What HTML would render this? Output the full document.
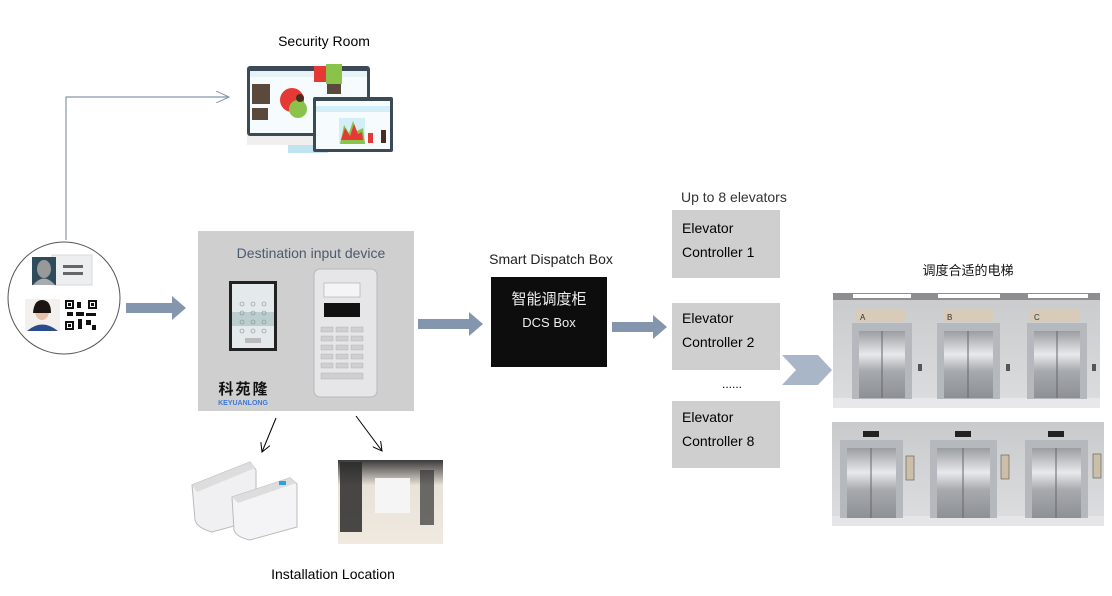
<!DOCTYPE html>
<html><head><meta charset="utf-8"><style>
html,body{margin:0;padding:0;background:#fff;}
svg{display:block;}
text{font-family:"Liberation Sans","Noto Sans CJK SC",sans-serif;}
</style></head><body>
<svg width="1112" height="596" viewBox="0 0 1112 596" xmlns="http://www.w3.org/2000/svg">
<defs>
<linearGradient id="door" x1="0" x2="1" y1="0" y2="0">
<stop offset="0" stop-color="#8f9398"/><stop offset="0.5" stop-color="#dfe1e4"/><stop offset="1" stop-color="#8a8e93"/></linearGradient>
<linearGradient id="doorv" x1="0" x2="0" y1="0" y2="1">
<stop offset="0" stop-color="#9a9da1"/><stop offset="0.35" stop-color="#e8e9eb"/><stop offset="0.6" stop-color="#a6a9ad"/><stop offset="1" stop-color="#8d9095"/></linearGradient>
<linearGradient id="wall" x1="0" x2="0" y1="0" y2="1">
<stop offset="0" stop-color="#c9cacc"/><stop offset="1" stop-color="#dcdddf"/></linearGradient>
<linearGradient id="hall" x1="0" x2="0" y1="0" y2="1">
<stop offset="0" stop-color="#3a3a3a"/><stop offset="0.3" stop-color="#e8e2d8"/><stop offset="1" stop-color="#efe9df"/></linearGradient>
<marker id="ah" markerWidth="10" markerHeight="10" refX="9" refY="5" orient="auto" markerUnits="userSpaceOnUse"><path d="M0,0 L9,5 L0,10" fill="none" stroke="#000" stroke-width="1"/></marker>
<marker id="ahb" markerWidth="14" markerHeight="12" refX="13" refY="6" orient="auto" markerUnits="userSpaceOnUse"><path d="M0,0 L13,6 L0,12" fill="none" stroke="#8396b0" stroke-width="1"/></marker>
</defs>

<!-- Security room -->
<text x="324" y="46" font-size="14" text-anchor="middle" fill="#000">Security Room</text>
<polyline points="66,240 66,97 229,97" fill="none" stroke="#8396b0" stroke-width="1.2" marker-end="url(#ahb)"/>
<!-- monitor -->
<rect x="247" y="66" width="123" height="70" rx="3" fill="#3c4a55"/>
<rect x="250" y="71" width="117" height="62" fill="#f6fbfd"/>
<rect x="250" y="71" width="117" height="6" fill="#e5f3f8"/>
<rect x="252" y="84" width="18" height="20" fill="#5a4a3c"/>
<rect x="252" y="108" width="16" height="12" fill="#5a4a3c"/>
<rect x="314" y="66" width="16" height="16" fill="#e53935"/>
<rect x="326" y="64" width="16" height="20" fill="#8bc34a"/>
<rect x="327" y="84" width="14" height="10" fill="#5a4a3c"/>
<circle cx="292" cy="100" r="12" fill="#e53935"/>
<circle cx="298" cy="109" r="9" fill="#8bc34a"/>
<circle cx="300" cy="98" r="4" fill="#4a2d20"/>
<rect x="247" y="136" width="123" height="9" fill="#f0efee"/>
<rect x="288" y="145" width="40" height="8" fill="#bfe4f0"/>
<rect x="313" y="97" width="80" height="55" rx="2" fill="#3c4a55"/>
<rect x="316" y="101" width="74" height="48" fill="#f6fbfd"/>
<rect x="316" y="106" width="74" height="6" fill="#d4eef7"/>
<rect x="339" y="118" width="26" height="26" fill="#d4eef7"/>
<polygon points="340,144 344,125 349,133 353,121 357,131 363,128 365,144" fill="#8bc34a"/>
<polygon points="341,140 345,128 350,136 354,124 358,134 362,132 363,140" fill="#e53935"/>
<rect x="368" y="133" width="5" height="10" fill="#e53935"/>
<rect x="381" y="130" width="5" height="13" fill="#4a2d20"/>

<!-- circle with id/face/qr -->
<circle cx="64" cy="298" r="56" fill="#fff" stroke="#555" stroke-width="1"/>
<rect x="52" y="255" width="40" height="30" fill="#eceef0" stroke="#d8d8d8"/>
<rect x="63" y="265" width="20" height="3" fill="#666"/><rect x="63" y="272" width="20" height="3" fill="#666"/>
<rect x="32" y="257" width="24" height="28" fill="#2e4c5c"/>
<ellipse cx="44" cy="269" rx="7" ry="9" fill="#999"/><path d="M33,285 Q44,272 55,285Z" fill="#aaa"/>
<rect x="25" y="299" width="35" height="32" fill="#f3f0ee"/>
<ellipse cx="42" cy="311" rx="7" ry="9" fill="#e7c0a8"/><path d="M33,313 Q34,300 42,300 Q51,300 51,313 Z" fill="#1b1412"/>
<path d="M27,331 Q42,318 58,331Z" fill="#2b4c8c"/>
<rect x="65" y="300" width="32" height="30" fill="#fff"/>
<g fill="#111">
<rect x="65" y="300" width="9" height="9"/><rect x="88" y="300" width="9" height="9"/><rect x="65" y="321" width="9" height="9"/>
<rect x="77" y="302" width="4" height="6"/><rect x="76" y="312" width="8" height="4"/><rect x="86" y="313" width="10" height="3"/>
<rect x="78" y="319" width="4" height="10"/><rect x="86" y="320" width="5" height="5"/><rect x="92" y="325" width="4" height="5"/><rect x="67" y="312" width="6" height="4"/>
</g>
<g fill="#fff"><rect x="67" y="302" width="5" height="5"/><rect x="90" y="302" width="5" height="5"/><rect x="67" y="323" width="5" height="5"/></g>
<g fill="#111"><rect x="68" y="303" width="3" height="3"/><rect x="91" y="303" width="3" height="3"/><rect x="68" y="324" width="3" height="3"/></g>

<!-- arrow 1 -->
<polygon points="126,303 172,303 172,296 186,308 172,320 172,313 126,313" fill="#8496ad"/>

<!-- destination input device box -->
<rect x="198" y="231" width="216" height="180" fill="#d0cfd0"/>
<text x="311" y="258" font-size="14" text-anchor="middle" fill="#4a5a6e">Destination input device</text>
<rect x="229" y="281" width="48" height="70" fill="#222"/>
<rect x="232" y="284" width="42" height="64" fill="#e4eaeb"/>
<rect x="232" y="312" width="42" height="14" fill="#a8c2c4" opacity="0.7"/>
<g fill="none" stroke="#888" stroke-width="0.6">
<circle cx="242" cy="304" r="2"/><circle cx="253" cy="304" r="2"/><circle cx="264" cy="304" r="2"/>
<circle cx="242" cy="313" r="2"/><circle cx="253" cy="313" r="2"/><circle cx="264" cy="313" r="2"/>
<circle cx="242" cy="322" r="2"/><circle cx="253" cy="322" r="2"/><circle cx="264" cy="322" r="2"/>
<circle cx="242" cy="331" r="2"/><circle cx="253" cy="331" r="2"/><circle cx="264" cy="331" r="2"/></g>
<rect x="245" y="338" width="16" height="5" fill="#bbb"/>
<rect x="314" y="269" width="63" height="128" rx="6" fill="#e6e6e8" stroke="#b8b8ba"/>
<rect x="324" y="283" width="36" height="14" fill="#f4f4f4" stroke="#999" stroke-width="0.5"/>
<rect x="324" y="303" width="36" height="14" fill="#111"/>
<g fill="#cfcfd2" stroke="#aaa" stroke-width="0.4">
<rect x="321" y="327" width="12" height="5"/><rect x="336" y="327" width="12" height="5"/><rect x="351" y="327" width="12" height="5"/>
<rect x="321" y="336" width="12" height="5"/><rect x="336" y="336" width="12" height="5"/><rect x="351" y="336" width="12" height="5"/>
<rect x="321" y="345" width="12" height="5"/><rect x="336" y="345" width="12" height="5"/><rect x="351" y="345" width="12" height="5"/>
<rect x="321" y="354" width="12" height="5"/><rect x="336" y="354" width="12" height="5"/><rect x="351" y="354" width="12" height="5"/>
<rect x="321" y="363" width="12" height="5"/><rect x="336" y="363" width="12" height="5"/><rect x="351" y="363" width="12" height="5"/>
<rect x="321" y="373" width="42" height="6"/></g>
<text x="244" y="394" font-size="15" font-weight="bold" text-anchor="middle" fill="#111" font-family="'Noto Serif CJK SC',serif" letter-spacing="2">科苑隆</text>
<text x="243" y="405" font-size="7" font-weight="bold" text-anchor="middle" fill="#3b78d8">KEYUANLONG</text>

<!-- arrows to installation -->
<line x1="276" y1="418" x2="262" y2="452" stroke="#000" stroke-width="1" marker-end="url(#ah)"/>
<line x1="356" y1="416" x2="382" y2="451" stroke="#000" stroke-width="1" marker-end="url(#ah)"/>
<!-- turnstile -->
<path d="M192,485 L250,462 L256,470 L256,520 L212,532 Q197,528 195,520 Z" fill="#f0f0f2" stroke="#bbb"/>
<path d="M192,485 L250,462 L255,468 L197,492 Z" fill="#ddd"/>
<path d="M232,497 L290,478 L297,484 L297,527 L250,540 Q236,537 234,530 Z" fill="#f4f4f6" stroke="#bbb"/>
<path d="M232,497 L290,478 L296,483 L238,503 Z" fill="#ddd"/>
<rect x="279" y="481" width="7" height="4" fill="#2aa4e0"/>
<!-- lobby -->
<rect x="338" y="460" width="105" height="84" fill="url(#hall)"/>
<rect x="340" y="462" width="22" height="70" fill="#2a2a2a" opacity="0.85"/>
<rect x="420" y="470" width="14" height="55" fill="#333" opacity="0.7"/>
<rect x="375" y="478" width="35" height="35" fill="#f5f5f5"/>
<text x="333" y="579" font-size="14" text-anchor="middle" fill="#000">Installation Location</text>

<!-- arrow 2 -->
<polygon points="418,319 469,319 469,312 483,324 469,336 469,329 418,329" fill="#8496ad"/>

<!-- Smart dispatch box -->
<text x="551" y="264" font-size="14" text-anchor="middle" fill="#222">Smart Dispatch Box</text>
<rect x="491" y="277" width="116" height="90" fill="#0d0d0d"/>
<text x="549" y="304" font-size="15" text-anchor="middle" fill="#eee" font-family="'Noto Sans CJK SC',sans-serif">智能调度柜</text>
<text x="549" y="327" font-size="13" text-anchor="middle" fill="#eee" font-family="'Liberation Mono',monospace">DCS Box</text>

<!-- arrow 3 -->
<polygon points="612,322 653,322 653,315 667,327 653,339 653,332 612,332" fill="#8496ad"/>

<!-- controllers -->
<text x="681" y="202" font-size="14" fill="#333">Up to 8 elevators</text>
<rect x="672" y="210" width="108" height="68" fill="#d0cfcf"/>
<text x="682" y="233" font-size="14" fill="#000">Elevator</text>
<text x="682" y="257" font-size="14" fill="#000">Controller 1</text>
<rect x="672" y="303" width="108" height="67" fill="#d0cfcf"/>
<text x="682" y="323" font-size="14" fill="#000">Elevator</text>
<text x="682" y="347" font-size="14" fill="#000">Controller 2</text>
<text x="722" y="388" font-size="12" fill="#000">......</text>
<rect x="672" y="401" width="108" height="67" fill="#d0cfcf"/>
<text x="682" y="422" font-size="14" fill="#000">Elevator</text>
<text x="682" y="446" font-size="14" fill="#000">Controller 8</text>

<!-- chevron -->
<polygon points="782,355 818,355 832,370 818,385 782,385 796,370" fill="#a9b6c8"/>

<!-- elevators -->
<text x="968" y="275" font-size="13" text-anchor="middle" fill="#111" font-family="'Noto Sans CJK SC',sans-serif">调度合适的电梯</text>
<rect x="833" y="293" width="267" height="115" fill="url(#wall)"/>
<rect x="833" y="293" width="267" height="7" fill="#8e8e90"/>
<rect x="853" y="294" width="58" height="4" fill="#fff"/><rect x="938" y="294" width="62" height="4" fill="#fff"/><rect x="1028" y="294" width="60" height="4" fill="#fff"/>
<rect x="833" y="398" width="267" height="10" fill="#e8e8ea"/>
<rect x="856" y="310" width="50" height="12" fill="#d8cbb8"/><text x="860" y="320" font-size="8" fill="#333">A</text>
<rect x="943" y="310" width="50" height="12" fill="#d8cbb8"/><text x="947" y="320" font-size="8" fill="#333">B</text>
<rect x="1030" y="310" width="50" height="12" fill="#d8cbb8"/><text x="1034" y="320" font-size="8" fill="#333">C</text>
<g>
<rect x="852" y="323" width="60" height="76" fill="#b5b8bc"/><rect x="859" y="331" width="46" height="67" fill="url(#doorv)"/><line x1="882" y1="331" x2="882" y2="398" stroke="#666"/>
<rect x="937" y="323" width="63" height="76" fill="#b5b8bc"/><rect x="944" y="331" width="49" height="67" fill="url(#doorv)"/><line x1="968" y1="331" x2="968" y2="398" stroke="#666"/>
<rect x="1027" y="323" width="60" height="76" fill="#b5b8bc"/><rect x="1034" y="331" width="46" height="67" fill="url(#doorv)"/><line x1="1057" y1="331" x2="1057" y2="398" stroke="#666"/>
</g>
<rect x="918" y="364" width="4" height="7" fill="#555"/><rect x="1006" y="364" width="4" height="7" fill="#555"/><rect x="1092" y="364" width="4" height="7" fill="#555"/>

<rect x="832" y="422" width="272" height="98" fill="url(#wall)"/>
<rect x="832" y="516" width="272" height="10" fill="#e6e6e8"/>
<rect x="863" y="431" width="16" height="6" fill="#222"/><rect x="955" y="431" width="16" height="6" fill="#222"/><rect x="1048" y="431" width="16" height="6" fill="#222"/>
<rect x="840" y="440" width="63" height="78" fill="#b5b8bc"/><rect x="847" y="448" width="49" height="70" fill="url(#doorv)"/><line x1="871" y1="448" x2="871" y2="518" stroke="#666"/>
<rect x="930" y="440" width="67" height="78" fill="#b5b8bc"/><rect x="937" y="448" width="53" height="70" fill="url(#doorv)"/><line x1="963" y1="448" x2="963" y2="518" stroke="#666"/>
<rect x="1025" y="440" width="63" height="78" fill="#b5b8bc"/><rect x="1032" y="448" width="49" height="70" fill="url(#doorv)"/><line x1="1056" y1="448" x2="1056" y2="518" stroke="#666"/>
<rect x="906" y="456" width="8" height="24" fill="#cbbfa8" stroke="#555" stroke-width="0.6"/>
<rect x="1001" y="455" width="8" height="24" fill="#cbbfa8" stroke="#555" stroke-width="0.6"/>
<rect x="1093" y="454" width="8" height="24" fill="#cbbfa8" stroke="#555" stroke-width="0.6"/>
</svg>
</body></html>
